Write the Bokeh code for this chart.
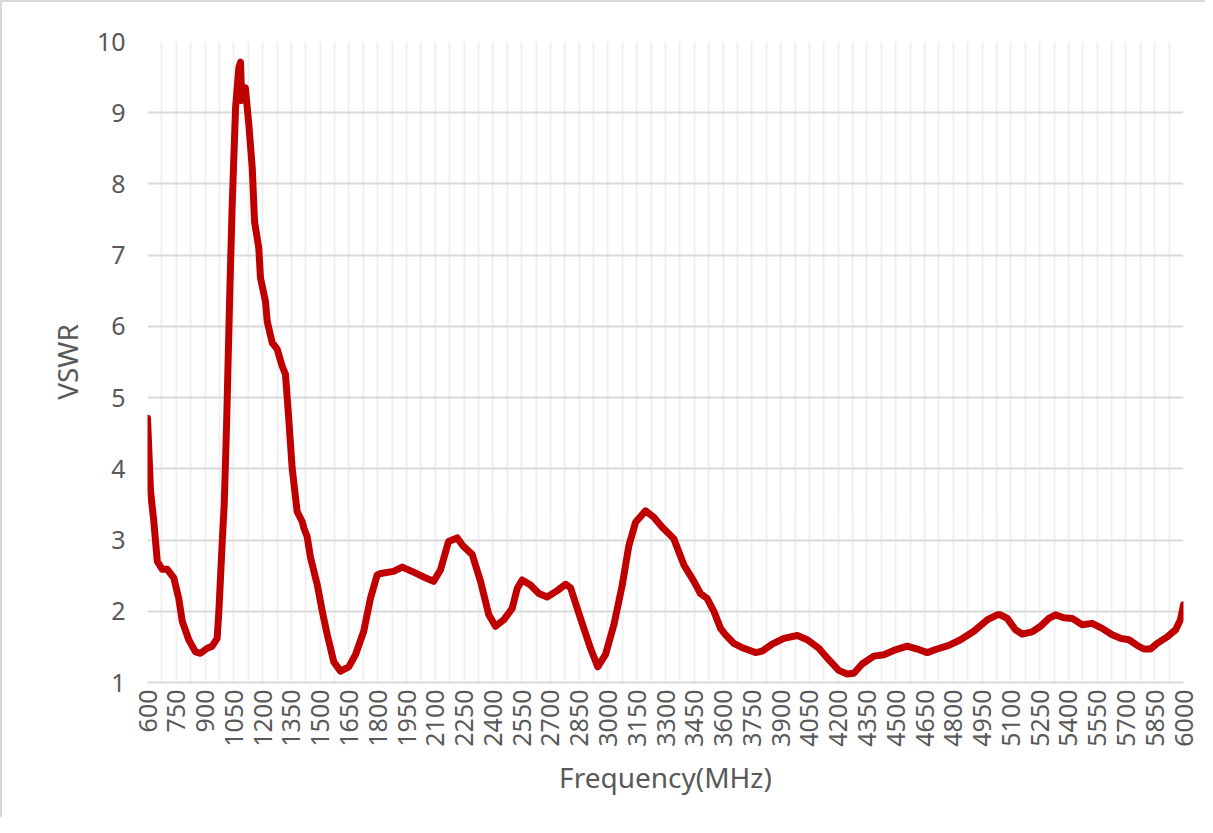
from bokeh.plotting import figure
from bokeh.models import FixedTicker, ColumnDataSource
from bokeh.embed import file_html
from bokeh.resources import INLINE
import math

freq_mhz = [600, 616, 633, 651, 677, 703, 737, 763, 781, 815, 850, 876, 911, 937, 963,
            972, 981, 990, 1000, 1012, 1029, 1041, 1059, 1076, 1085, 1091, 1110, 1128,
            1146, 1158, 1180, 1189, 1215, 1224, 1250, 1276, 1302, 1319, 1336, 1354, 1380,
            1406, 1415, 1432, 1450, 1485, 1511, 1537, 1571, 1606, 1649, 1684, 1727, 1762,
            1797, 1815, 1882, 1928, 1987, 2049, 2091, 2127, 2169, 2214, 2247, 2292, 2336,
            2379, 2414, 2457, 2501, 2527, 2553, 2596, 2640, 2683, 2736, 2779, 2805, 2857,
            2909, 2947, 2987, 3031, 3074, 3109, 3144, 3196, 3239, 3283, 3343, 3396, 3448,
            3482, 3517, 3552, 3587, 3613, 3656, 3708, 3769, 3804, 3856, 3917, 3987, 4039,
            4099, 4151, 4203, 4247, 4282, 4325, 4386, 4438, 4490, 4560, 4612, 4664, 4716,
            4777, 4838, 4907, 4977, 5029, 5046, 5081, 5124, 5159, 5211, 5255, 5298, 5333,
            5376, 5420, 5472, 5524, 5576, 5628, 5672, 5715, 5759, 5793, 5828, 5863, 5915,
            5959, 5984, 6000]
vswr = [4.71, 3.68, 3.26, 2.70, 2.59, 2.59, 2.47, 2.18, 1.86, 1.60, 1.43, 1.41, 1.48, 1.51, 1.62,
        2.00, 2.50, 3.00, 3.50, 4.60, 6.49, 7.66, 9.07, 9.63, 9.71, 9.17, 9.35, 8.84,
        8.22, 7.47, 7.10, 6.68, 6.35, 6.07, 5.77, 5.68, 5.44, 5.33, 4.71, 4.01, 3.40,
        3.26, 3.17, 3.05, 2.75, 2.37, 2.00, 1.67, 1.29, 1.16, 1.22, 1.39, 1.72, 2.18,
        2.51, 2.53, 2.56, 2.62, 2.55, 2.47, 2.42, 2.58, 2.98, 3.03, 2.91, 2.80, 2.42,
        1.95, 1.79, 1.88, 2.04, 2.32, 2.44, 2.37, 2.25, 2.20, 2.29, 2.38, 2.33, 1.90,
        1.48, 1.22, 1.39, 1.81, 2.36, 2.92, 3.25, 3.41, 3.32, 3.18, 3.02, 2.65, 2.42,
        2.25, 2.18, 2.00, 1.76, 1.67, 1.55, 1.48, 1.42, 1.44, 1.54, 1.62, 1.66, 1.60,
        1.48, 1.32, 1.17, 1.12, 1.13, 1.26, 1.37, 1.39, 1.45, 1.51, 1.47, 1.42, 1.47,
        1.52, 1.60, 1.72, 1.88, 1.95, 1.95, 1.90, 1.74, 1.68, 1.71, 1.79, 1.90, 1.95,
        1.91, 1.90, 1.81, 1.83, 1.76, 1.67, 1.62, 1.60, 1.52, 1.47, 1.47, 1.55, 1.64,
        1.74, 1.88, 2.09]

x_label_ticks = list(range(600, 6001, 150))
x_grid_ticks = list(range(600, 6001, 75))
y_ticks = list(range(1, 11))

TEXT = "#595959"
FONT = "Noto Sans"

p = figure(width=1205, height=817, output_backend="svg", toolbar_location=None,
           x_range=(600, 6000), y_range=(1, 10),
           min_border_left=145, min_border_right=24, min_border_top=39, min_border_bottom=137)
p.background_fill_color = "white"
p.border_fill_color = "white"
p.outline_line_color = None
p.styles = {"border-top": "2px solid #d9d9d9", "border-left": "2px solid #d9d9d9"}

src = ColumnDataSource(data=dict(f=freq_mhz, v=vswr))
p.line("f", "v", source=src, line_color="#c00000", line_width=7, line_join="round", line_cap="round")

# grids
p.xgrid.ticker = FixedTicker(ticks=x_grid_ticks)
p.xgrid.grid_line_color = "#f0f0f0"
p.xgrid.grid_line_width = 2
p.ygrid.ticker = FixedTicker(ticks=y_ticks)
p.ygrid.grid_line_color = "#d9d9d9"
p.ygrid.grid_line_width = 2

# x axis
xa = p.xaxis[0]
xa.ticker = FixedTicker(ticks=x_label_ticks)
xa.major_label_orientation = math.pi / 2
xa.axis_line_color = "#d9d9d9"
xa.axis_line_width = 2
xa.major_tick_line_color = None
xa.minor_tick_line_color = None
xa.major_tick_out = 0
xa.major_tick_in = 0
xa.minor_tick_out = 0
xa.major_label_text_font = FONT
xa.major_label_text_font_size = "25px"
xa.major_label_text_color = TEXT
xa.major_label_standoff = 7
xa.axis_label = "Frequency(MHz)"
xa.axis_label_text_font = FONT
xa.axis_label_text_font_size = "28px"
xa.axis_label_text_font_style = "normal"
xa.axis_label_text_color = TEXT
xa.axis_label_standoff = 8

# y axis
ya = p.yaxis[0]
ya.ticker = FixedTicker(ticks=y_ticks)
ya.axis_line_color = None
ya.major_tick_line_color = None
ya.minor_tick_line_color = None
ya.major_tick_out = 0
ya.major_tick_in = 0
ya.minor_tick_out = 0
ya.major_label_text_font = FONT
ya.major_label_text_font_size = "25px"
ya.major_label_text_color = TEXT
ya.major_label_standoff = 22
ya.axis_label = "VSWR"
ya.axis_label_text_font = FONT
ya.axis_label_text_font_size = "28px"
ya.axis_label_text_font_style = "normal"
ya.axis_label_text_color = TEXT
ya.axis_label_standoff = 8

open("out.html", "w").write(file_html(p, INLINE))
